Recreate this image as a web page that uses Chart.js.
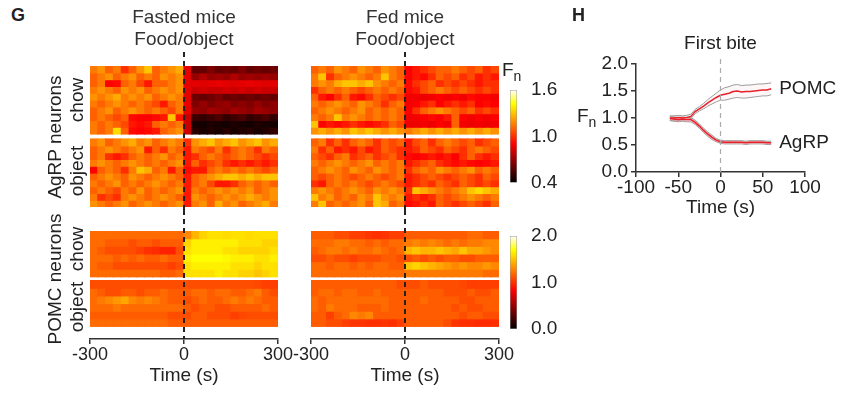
<!DOCTYPE html>
<html><head><meta charset="utf-8">
<script src="https://cdn.jsdelivr.net/npm/chart.js@4.4.1/dist/chart.umd.min.js"></script>
<style>
html,body{margin:0;padding:0;background:#fff;}
#wrap{position:relative;width:859px;height:400px;overflow:hidden;font-family:"Liberation Sans",Arial,sans-serif;color:#222;}
canvas{position:absolute;}
.lbl{position:absolute;white-space:nowrap;font-size:19px;line-height:19px;}
.rot{transform:translate(-50%,-50%) rotate(-90deg);}
.bold{font-weight:bold;font-size:18px;}
.sb{font-size:14px;position:relative;top:5px;}
</style></head><body>
<div id="wrap">
<canvas id="agFast" width="248" height="210" style="left:60px;top:0px"></canvas>
<canvas id="agFed" width="248" height="210" style="left:281px;top:0px"></canvas>
<canvas id="poFast" width="248" height="180" style="left:60px;top:210px"></canvas>
<canvas id="poFed" width="248" height="180" style="left:281px;top:210px"></canvas>
<canvas id="cbAg" width="57" height="140" style="left:500px;top:60px"></canvas>
<canvas id="cbPo" width="57" height="140" style="left:500px;top:210px"></canvas>
<canvas id="panelH" width="299" height="222" style="left:560px;top:0px"></canvas>
<div class="lbl bold" style="left:11px;top:6px">G</div>
<div class="lbl bold" style="left:572px;top:6px">H</div>
<div class="lbl rot" style="left:54px;top:137px">AgRP neurons</div>
<div class="lbl rot" style="left:76px;top:100px">chow</div>
<div class="lbl rot" style="left:76px;top:171px">object</div>
<div class="lbl rot" style="left:54px;top:279px">POMC neurons</div>
<div class="lbl rot" style="left:76px;top:249px">chow</div>
<div class="lbl rot" style="left:76px;top:307px">object</div>
<div class="lbl" style="left:502px;top:60px">F<span class="sb">n</span></div>
<div class="lbl" style="left:577px;top:106px">F<span class="sb">n</span></div>
</div>
<script>
// ---------- DATA ----------
const heatBins = ['-300','-275','-250','-225','-200','-175','-150','-125','-100','-75','-50','-25','0','25','50','75','100','125','150','175','200','225','250','275'];
const heatTicks = [-300, 0, 300];
const agrpScale = [0.4, 1.0, 1.6];
const pomcScale = [0.0, 1.0, 2.0];

const agrpFastedChow = [
 [1.15,1.2,1.1,1.15,1.0,1.1,1.2,1.3,1.1,1.15,1.2,1.25, 0.85,0.6,0.6,0.65,0.6,0.62,0.6,0.65,0.6,0.62,0.6,0.62],
 [1.1,1.15,1.2,1.1,1.15,1.2,1.1,1.15,1.1,1.2,1.15,1.2, 0.85,0.7,0.75,0.7,0.72,0.7,0.75,0.7,0.72,0.7,0.72,0.7],
 [1.1,1.15,0.9,0.92,1.1,1.15,1.05,0.95,1.1,1.1,1.15,1.2, 0.85,0.85,0.84,0.85,0.86,0.85,0.84,0.85,0.86,0.85,0.84,0.85],
 [1.15,1.2,1.15,1.1,1.2,1.15,1.2,1.1,1.15,1.2,1.15,1.2, 0.85,0.8,0.82,0.8,0.8,0.82,0.8,0.82,0.8,0.82,0.8,0.8],
 [1.2,1.15,1.2,1.25,1.15,1.2,1.15,1.2,1.1,1.15,1.2,1.15, 0.85,0.62,0.6,0.62,0.65,0.6,0.62,0.6,0.62,0.6,0.62,0.6],
 [1.15,1.1,1.15,1.2,1.15,1.1,1.15,1.1,1.05,0.95,1.1,1.15, 0.85,0.65,0.7,0.65,0.68,0.7,0.65,0.68,0.65,0.7,0.65,0.68],
 [1.1,1.15,1.2,1.1,1.15,1.2,1.15,1.1,1.15,1.1,1.05,1.15, 0.85,0.7,0.68,0.72,0.7,0.68,0.72,0.7,0.68,0.72,0.7,0.68],
 [1.1,1.15,1.1,1.05,1.1,0.92,0.9,0.9,0.92,0.95,1.3,0.95, 0.8,0.52,0.5,0.52,0.55,0.5,0.52,0.55,0.5,0.52,0.55,0.5],
 [1.15,1.1,1.15,1.1,1.05,0.95,0.92,0.95,1.1,1.15,1.1,1.15, 0.8,0.45,0.44,0.46,0.45,0.44,0.46,0.45,0.44,0.46,0.45,0.44],
 [1.15,1.1,1.15,1.35,1.1,0.92,0.9,0.92,0.95,1.1,1.15,1.2, 0.8,0.48,0.45,0.47,0.45,0.48,0.45,0.47,0.48,0.45,0.47,0.5]
];
const agrpFastedObject = [
 [1.15,1.2,1.1,1.15,1.2,1.25,1.15,1.2,1.1,1.15,1.2,1.15, 1.0,1.2,1.25,1.3,1.2,1.25,1.3,1.2,1.25,1.3,1.2,1.25],
 [1.1,1.15,1.2,1.15,1.1,1.15,1.2,0.95,1.1,1.0,1.15,1.1, 0.95,1.15,1.1,1.05,1.15,1.0,1.1,1.15,1.1,1.0,1.15,1.1],
 [1.1,1.15,1.0,0.95,1.0,1.1,1.15,1.1,1.15,1.2,1.1,1.15, 0.95,1.0,1.1,1.15,1.1,1.05,1.1,1.15,1.1,1.05,1.0,1.05],
 [1.15,1.2,1.15,1.1,1.15,1.2,1.15,1.1,1.15,1.1,1.15,1.2, 0.95,1.1,1.0,1.05,1.1,1.0,0.95,1.0,0.95,1.0,0.95,1.0],
 [0.9,1.1,1.15,1.1,1.0,1.15,1.3,1.25,1.1,1.15,0.95,1.1, 0.92,0.95,0.95,1.1,1.15,1.1,1.15,1.1,1.15,1.1,1.05,1.1],
 [1.1,1.15,1.2,1.15,1.1,1.2,1.15,1.1,1.15,1.2,1.15,1.1, 0.95,1.1,1.15,1.2,1.25,1.3,1.3,1.25,1.3,1.25,1.3,1.3],
 [1.15,1.1,1.15,1.2,1.1,1.15,1.1,1.15,1.2,1.15,1.1,1.15, 0.95,1.1,1.15,1.05,0.95,0.95,1.0,1.1,1.15,1.1,1.15,1.1],
 [1.1,1.15,1.1,1.05,1.15,1.1,1.2,1.1,1.15,1.1,1.15,1.2, 0.95,1.15,1.1,1.15,1.2,1.15,1.2,1.15,1.2,1.1,1.15,1.2],
 [1.15,1.0,1.05,1.0,1.15,1.2,1.15,1.1,1.15,1.2,1.15,1.1, 0.95,1.2,1.15,1.1,1.15,1.2,1.15,1.2,1.25,1.2,1.15,1.2],
 [1.2,1.15,1.1,1.15,1.2,1.1,1.15,1.2,1.15,1.1,1.15,1.2, 0.95,1.15,1.2,1.1,1.25,1.15,1.2,1.1,1.15,1.2,1.25,1.15]
];
const agrpFedChow = [
 [1.1,1.15,1.1,1.2,1.15,1.1,1.2,1.15,1.1,1.2,1.15,1.1, 0.9,0.95,1.0,1.05,1.1,1.1,1.15,1.1,1.05,1.1,1.0,1.05],
 [1.15,1.3,1.0,1.1,1.15,1.2,1.15,1.1,1.15,1.3,1.15,1.1, 0.9,0.95,0.92,1.0,1.1,1.05,1.1,1.0,1.05,0.95,1.0,0.95],
 [1.15,1.2,1.15,1.25,1.3,1.3,1.25,1.3,1.2,1.15,1.1,1.15, 0.92,1.0,1.05,1.1,1.0,1.05,1.0,1.05,1.0,0.95,1.0,1.0],
 [1.0,1.1,1.15,1.1,1.15,1.1,1.05,1.1,1.15,1.1,1.15,1.1, 0.92,0.95,1.05,1.1,1.15,1.1,1.05,1.1,1.05,1.0,1.05,1.0],
 [1.1,0.95,0.9,1.0,1.1,0.95,0.92,1.0,1.1,1.05,1.0,1.05, 0.88,0.88,0.87,0.88,0.9,0.88,0.9,0.88,0.92,0.9,0.9,0.88],
 [1.15,1.1,1.15,1.2,1.15,1.1,1.2,1.15,1.1,1.0,1.1,1.15, 0.88,0.9,0.95,1.0,0.9,0.95,1.0,0.95,1.0,0.9,0.92,0.9],
 [1.1,1.15,1.2,1.15,1.1,1.15,1.2,1.1,1.15,1.1,1.15,1.1, 0.9,1.0,1.1,1.15,1.2,1.15,1.1,1.05,1.1,1.0,1.05,1.0],
 [1.15,1.1,1.15,1.3,1.15,1.2,1.15,1.1,1.15,1.1,1.15,1.1, 0.88,0.88,0.9,0.92,0.9,0.95,1.1,0.9,0.88,0.9,0.88,0.9],
 [1.3,0.9,0.95,0.92,0.95,1.0,0.95,0.92,0.95,1.0,1.1,1.05, 0.87,0.87,0.88,0.87,0.9,0.88,1.1,0.88,0.87,0.88,0.87,0.88],
 [1.2,1.25,1.2,1.25,1.2,1.3,1.25,1.3,1.25,1.2,1.25,1.2, 1.15,1.2,1.25,1.2,1.25,1.2,1.25,1.2,1.25,1.2,1.25,1.2]
];
const agrpFedObject = [
 [1.1,1.15,1.0,1.1,1.0,1.1,1.15,1.1,1.0,1.1,1.05,1.1, 0.95,1.05,1.1,1.0,1.1,1.15,1.1,1.05,1.1,1.0,1.05,1.1],
 [1.15,1.0,1.1,0.95,1.0,0.95,1.05,0.95,1.0,1.1,1.05,1.0, 0.95,1.0,1.1,1.05,1.0,1.1,1.05,1.0,1.1,1.15,1.1,1.05],
 [1.1,1.05,1.0,1.1,1.15,1.0,1.05,1.1,1.0,1.05,1.1,1.0, 0.92,0.9,0.92,0.95,0.92,0.95,0.9,1.0,1.1,1.0,0.95,1.0],
 [1.15,1.1,1.15,1.2,1.15,1.1,1.15,1.2,1.1,1.15,1.1,1.15, 0.95,1.0,1.05,1.1,1.0,0.95,0.92,0.95,0.92,0.9,0.92,0.95],
 [1.1,1.15,1.2,1.15,1.1,1.2,1.15,1.1,1.2,1.15,1.1,1.15, 1.0,1.1,1.15,1.1,1.2,1.15,1.1,1.15,1.2,1.1,1.15,1.1],
 [1.1,1.05,1.1,1.15,1.1,1.05,1.1,1.15,1.1,1.05,1.1,1.15, 0.95,1.0,1.05,1.1,1.05,1.0,1.05,1.1,1.05,1.0,1.1,1.05],
 [1.0,0.95,1.1,1.15,1.1,1.15,1.1,1.05,1.1,1.15,1.1,1.05, 0.95,1.0,1.05,1.0,1.1,1.05,1.0,1.1,1.05,1.0,1.05,1.0],
 [1.15,1.2,1.15,1.1,1.15,1.2,1.15,1.1,1.2,1.15,1.2,1.15, 1.0,1.3,1.25,1.2,1.15,1.1,1.15,1.2,1.3,1.35,1.3,1.25],
 [1.3,1.15,1.2,1.1,1.15,1.1,1.2,1.15,1.3,1.2,1.15,1.2, 0.95,1.0,0.95,1.0,1.1,1.05,1.1,1.15,1.2,1.15,1.1,1.15],
 [1.15,1.3,1.1,1.15,1.1,1.15,1.2,1.1,1.3,1.25,1.1,1.15, 0.92,0.95,1.0,0.95,1.1,1.05,1.0,1.05,1.1,1.05,1.0,1.1]
];
const pomcFastedChow = [
 [1.2,1.2,1.2,1.2,1.2,1.2,1.2,1.2,1.2,1.2,1.2,1.2, 1.3,1.45,1.55,1.6,1.6,1.58,1.6,1.6,1.58,1.6,1.6,1.6],
 [1.2,1.2,1.15,1.15,1.15,1.1,1.15,1.15,1.1,1.15,1.15,1.15, 1.55,1.65,1.65,1.65,1.65,1.65,1.65,1.6,1.6,1.6,1.55,1.55],
 [1.2,1.15,1.1,1.1,1.1,1.1,1.05,1.0,0.98,0.95,0.95,1.1, 1.6,1.65,1.65,1.65,1.65,1.6,1.6,1.55,1.55,1.55,1.55,1.6],
 [1.2,1.2,1.2,1.15,1.2,1.15,1.2,1.15,1.15,1.2,1.15,1.15, 1.65,1.7,1.7,1.7,1.7,1.68,1.65,1.65,1.65,1.6,1.6,1.65],
 [1.2,1.15,1.15,1.1,1.1,1.1,1.1,1.1,1.1,1.1,1.05,1.1, 1.6,1.65,1.65,1.65,1.65,1.65,1.6,1.6,1.6,1.55,1.6,1.6],
 [1.2,1.2,1.2,1.2,1.2,1.2,1.2,1.2,1.2,1.15,1.15,1.2, 1.6,1.6,1.6,1.6,1.65,1.6,1.6,1.55,1.55,1.5,1.55,1.6]
];
const pomcFastedObject = [
 [1.1,1.1,1.1,1.1,1.1,1.1,1.1,1.1,1.1,1.1,1.1,1.1, 1.1,1.1,1.1,1.1,1.1,1.1,1.1,1.1,1.1,1.08,1.05,1.05],
 [1.2,1.15,1.1,1.1,1.15,1.15,1.1,1.15,1.15,1.2,1.15,1.15, 1.15,1.2,1.2,1.15,1.2,1.2,1.15,1.15,1.2,1.25,1.15,1.1],
 [1.2,1.25,1.3,1.35,1.4,1.3,1.25,1.3,1.25,1.2,1.15,1.15, 1.1,1.15,1.2,1.15,1.15,1.2,1.25,1.2,1.25,1.2,1.15,1.15],
 [1.2,1.2,1.2,1.25,1.2,1.2,1.2,1.2,1.2,1.2,1.2,1.2, 1.15,1.1,1.15,1.15,1.1,1.1,1.15,1.15,1.15,1.15,1.2,1.15],
 [1.15,1.15,1.15,1.15,1.15,1.15,1.15,1.15,1.15,1.15,1.1,1.1, 1.1,1.15,1.15,1.1,1.1,1.1,1.05,1.08,1.1,1.1,1.1,1.1],
 [1.2,1.2,1.2,1.2,1.2,1.2,1.2,1.2,1.2,1.2,1.15,1.15, 1.15,1.15,1.15,1.15,1.15,1.15,1.15,1.15,1.15,1.15,1.15,1.15]
];
const pomcFedChow = [
 [1.15,1.15,1.15,1.1,1.1,1.05,1.05,1.02,1.0,1.02,1.05,1.05, 1.15,1.15,1.15,1.15,1.15,1.15,1.15,1.15,1.2,1.2,1.15,1.15],
 [1.2,1.2,1.2,1.25,1.25,1.2,1.2,1.15,1.2,1.15,1.2,1.2, 1.25,1.3,1.25,1.3,1.25,1.2,1.25,1.2,1.25,1.25,1.3,1.3],
 [1.15,1.2,1.25,1.25,1.2,1.25,1.2,1.2,1.25,1.2,1.15,1.2, 1.45,1.5,1.45,1.45,1.5,1.45,1.4,1.5,1.4,1.4,1.35,1.3],
 [1.1,1.1,1.15,1.1,1.1,1.05,1.1,1.1,1.1,1.15,1.15,1.1, 1.1,1.15,1.1,1.15,1.1,1.15,1.15,1.1,1.1,1.15,1.15,1.15],
 [1.2,1.2,1.15,1.2,1.2,1.15,1.2,1.15,1.2,1.2,1.15,1.15, 1.5,1.55,1.5,1.45,1.4,1.35,1.3,1.35,1.3,1.3,1.35,1.3],
 [1.2,1.2,1.2,1.2,1.2,1.2,1.2,1.2,1.2,1.2,1.2,1.2, 1.25,1.25,1.25,1.25,1.25,1.25,1.25,1.25,1.25,1.25,1.2,1.2]
];
const pomcFedObject = [
 [1.15,1.15,1.15,1.15,1.15,1.15,1.15,1.15,1.15,1.15,1.15,1.1, 1.1,1.1,1.15,1.1,1.1,1.1,1.1,1.08,1.05,1.05,1.05,1.05],
 [1.15,1.2,1.2,1.15,1.2,1.2,1.15,1.15,1.2,1.15,1.15,1.15, 1.15,1.15,1.15,1.15,1.15,1.1,1.1,1.1,1.15,1.1,1.1,1.15],
 [1.2,1.15,1.2,1.2,1.2,1.2,1.2,1.2,1.2,1.2,1.15,1.15, 1.15,1.15,1.2,1.15,1.15,1.15,1.15,1.1,1.1,1.15,1.15,1.15],
 [1.2,1.15,1.25,1.2,1.2,1.2,1.15,1.15,1.15,1.2,1.15,1.15, 1.15,1.15,1.15,1.15,1.15,1.15,1.1,1.15,1.1,1.1,1.15,1.15],
 [1.15,1.15,1.05,1.15,1.2,1.3,1.25,1.3,1.15,1.15,1.15,1.15, 1.15,1.15,1.15,1.15,1.15,1.15,1.15,1.1,1.15,1.15,1.1,1.1],
 [1.15,1.15,1.1,1.1,1.05,1.02,1.02,1.0,1.0,1.02,1.0,1.05, 1.15,1.15,1.15,1.15,1.15,1.1,1.02,1.0,1.0,0.98,0.98,1.0]
];

// Panel H
const hTime = [-60,-55,-50,-45,-40,-35,-30,-25,-20,-15,-10,-5,0,5,10,15,20,25,30,35,40,45,50,55,60];
const pomcMean  = [1.00,1.00,1.01,1.00,1.01,1.03,1.12,1.17,1.22,1.28,1.33,1.38,1.42,1.44,1.46,1.49,1.50,1.48,1.49,1.49,1.50,1.51,1.52,1.52,1.54];
const pomcUpper = [1.04,1.04,1.05,1.04,1.05,1.07,1.16,1.21,1.27,1.34,1.40,1.46,1.52,1.56,1.58,1.61,1.62,1.60,1.61,1.61,1.62,1.63,1.63,1.64,1.65];
const pomcLower = [0.96,0.96,0.97,0.96,0.97,0.99,1.08,1.13,1.17,1.22,1.26,1.30,1.33,1.33,1.35,1.37,1.38,1.37,1.37,1.38,1.39,1.40,1.41,1.41,1.43];
const agrpMean  = [0.99,0.98,0.97,0.98,0.97,0.97,0.92,0.85,0.77,0.70,0.64,0.59,0.56,0.55,0.55,0.55,0.55,0.55,0.54,0.55,0.55,0.55,0.55,0.54,0.54];
const agrpUpper = [1.03,1.02,1.01,1.02,1.01,1.01,0.96,0.89,0.81,0.74,0.68,0.62,0.59,0.58,0.58,0.58,0.58,0.58,0.57,0.58,0.58,0.58,0.58,0.57,0.57];
const agrpLower = [0.95,0.94,0.93,0.94,0.93,0.93,0.88,0.81,0.73,0.66,0.60,0.56,0.53,0.52,0.52,0.52,0.52,0.52,0.51,0.52,0.52,0.52,0.52,0.51,0.51];
const hXTicks = [-100,-50,0,50,100];
const hYTicks = [0,0.5,1.0,1.5,2.0];

// ---------- RENDER ----------
const FONT = '"Liberation Sans", Arial, sans-serif';
Chart.defaults.font.family = FONT;
Chart.defaults.color = '#222';

// black -> red -> yellow -> white colormap
function hot(t){
  t = Math.max(0, Math.min(1, t));
  const R = 0.42, Y = 0.85;
  const r = Math.min(1, t/R);
  const g = Math.max(0, Math.min(1, (t-R)/(Y-R)));
  const b = Math.max(0, Math.min(1, (t-Y)/(1-Y)));
  return 'rgb('+Math.round(255*r)+','+Math.round(255*g)+','+Math.round(255*b)+')';
}

const zeroLine = {
  id: 'zeroLine',
  afterDatasetsDraw(chart, args, o){
    if (!o || !o.on) return;
    const xs = chart.scales[o.axis];
    const x = xs.getPixelForValue(0);
    const ctx = chart.ctx;
    ctx.save();
    ctx.strokeStyle = o.color; ctx.lineWidth = o.width; ctx.setLineDash(o.dash);
    ctx.beginPath();
    const top = o.top === 'area' ? chart.chartArea.top + (o.topOff||0) : o.top;
    const bot = o.bottom === 'area' ? chart.chartArea.bottom : chart.height;
    ctx.moveTo(x, top); ctx.lineTo(x, bot); ctx.stroke();
    ctx.restore();
  }
};
Chart.register(zeroLine);

function heatChart(id, upperRows, lowerRows, range, geom, withAxis, title){
  const vmin = range[0], vmax = range[range.length - 1];
  const datasets = [];
  const addBlock = (rows, base) => {
    const n = rows.length;
    rows.forEach((row, i) => {
      const y1 = base + n - i, y0 = y1 - 1;
      datasets.push({
        data: row.map(() => [y0, y1]),
        backgroundColor: row.map(v => hot((v - vmin)/(vmax - vmin))),
        borderWidth: 0, barPercentage: 1, categoryPercentage: 1,
        grouped: false, inflateAmount: 0.6, xAxisID: 'x', yAxisID: 'y'
      });
    });
  };
  addBlock(lowerRows, 0);
  addBlock(upperRows, lowerRows.length + geom.gap);
  const topVal = lowerRows.length + geom.gap + upperRows.length;
  new Chart(document.getElementById(id), {
    type: 'bar',
    data: { labels: heatBins, datasets },
    options: {
      responsive: false, animation: false, events: [], devicePixelRatio: 1,
      layout: { padding: geom.pad },
      plugins: {
        legend: { display: false }, tooltip: { enabled: false },
        title: title ? { display: true, text: title, color: '#333',
          font: { size: 19, lineHeight: '22px', weight: 'normal' }, padding: { top: 7, bottom: 15 } } : { display: false },
        zeroLine: { on: true, axis: 'xt', color: '#222', width: 2, dash: [5, 4], top: geom.lineTop, bottom: geom.lineBottom }
      },
      scales: {
        x: { type: 'category', display: false, offset: true },
        xt: { type: 'linear', position: 'bottom', min: -300, max: 300, display: withAxis,
          offset: false,
          afterBuildTicks: s => { s.ticks = heatTicks.map(v => ({ value: v })); },
          ticks: { stepSize: 300, autoSkip: false, font: { size: 18, lineHeight: 1 }, color: '#222', padding: 2, maxRotation: 0, callback: v => String(v) },
          grid: { offset: false, drawOnChartArea: false, drawTicks: true, tickLength: 5, color: '#333', lineWidth: 1.5 },
          border: { display: true, color: '#333', width: 1.5 },
          title: { display: true, text: 'Time (s)', font: { size: 19, lineHeight: 1 }, color: '#222', padding: { top: 0, bottom: 0 } }
        },
        y: { type: 'linear', display: false, min: geom.ymin, max: topVal }
      }
    }
  });
}

const agGeom = { gap: 0.74, ymin: 0, pad: { left: 30, right: 30, top: 0, bottom: 3 }, lineTop: 52, lineBottom: 'canvas' };
const poGeom = { gap: 0.5, ymin: -1.66, pad: { left: 30, right: 30, top: 21, bottom: 5 }, lineTop: 0, lineBottom: 'area' };

heatChart('agFast', agrpFastedChow, agrpFastedObject, agrpScale, agGeom, false, ['Fasted mice', 'Food/object']);
heatChart('agFed', agrpFedChow, agrpFedObject, agrpScale, agGeom, false, ['Fed mice', 'Food/object']);
heatChart('poFast', pomcFastedChow, pomcFastedObject, pomcScale, poGeom, true, null);
heatChart('poFed', pomcFedChow, pomcFedObject, pomcScale, poGeom, true, null);

function colorbar(id, ticks, padTop, padBottom){
  const vmin = ticks[0], vmax = ticks[ticks.length - 1];
  new Chart(document.getElementById(id), {
    type: 'bar',
    data: { labels: [''], datasets: [{
      data: [[vmin, vmax]],
      backgroundColor: (c) => {
        const ch = c.chart; if (!ch.chartArea) return '#f00';
        const ys = ch.scales.y;
        const g = ch.ctx.createLinearGradient(0, ys.getPixelForValue(vmin), 0, ys.getPixelForValue(vmax));
        for (let i = 0; i <= 40; i++) g.addColorStop(i/40, hot(i/40));
        return g;
      },
      borderColor: '#999', borderWidth: 0.8, borderSkipped: false,
      barPercentage: 1, categoryPercentage: 1
    }]},
    options: {
      responsive: false, animation: false, events: [], devicePixelRatio: 1,
      layout: { padding: { left: 10, right: 0, top: padTop, bottom: padBottom } },
      plugins: { legend: { display: false }, tooltip: { enabled: false } },
      scales: {
        x: { display: false, offset: true },
        y: { position: 'right', min: vmin, max: vmax,
          afterBuildTicks: s => { s.ticks = ticks.map(v => ({ value: v })); },
          afterFit: s => { s.width = 40; },
          ticks: { font: { size: 19 }, color: '#222', padding: 6, callback: v => Number(v).toFixed(1) },
          grid: { display: false }, border: { display: false } }
      }
    }
  });
}
colorbar('cbAg', agrpScale, 30, 15);
colorbar('cbPo', pomcScale, 26, 21);

// Panel H
const pts = arr => hTime.map((t, i) => ({ x: t, y: arr[i] }));
const sideLabels = {
  id: 'sideLabels',
  afterDatasetsDraw(chart){
    const ctx = chart.ctx, xs = chart.scales.x, ys = chart.scales.y;
    const x = xs.getPixelForValue(hTime[hTime.length - 1]) + 8;
    ctx.save();
    ctx.font = '19px ' + FONT; ctx.fillStyle = '#222'; ctx.textBaseline = 'middle'; ctx.textAlign = 'left';
    ctx.fillText('POMC', x, ys.getPixelForValue(pomcMean[pomcMean.length - 1]));
    ctx.fillText('AgRP', x, ys.getPixelForValue(agrpMean[agrpMean.length - 1]));
    ctx.restore();
  }
};
const band = (arr, fill, bg) => ({ data: pts(arr), borderColor: '#9a9a9a', borderWidth: 1, pointRadius: 0, fill: fill, backgroundColor: bg, order: 3, tension: 0 });
new Chart(document.getElementById('panelH'), {
  type: 'line',
  data: { datasets: [
    band(pomcUpper, '+1', 'rgba(245,200,205,0.15)'),
    band(pomcLower, false, 'transparent'),
    band(agrpUpper, '+1', 'rgba(235,130,140,0.45)'),
    band(agrpLower, false, 'transparent'),
    { data: pts(pomcMean), borderColor: '#e8202a', borderWidth: 1.5, pointRadius: 0, fill: false, order: 1, tension: 0 },
    { data: pts(agrpMean), borderColor: '#e8202a', borderWidth: 1.5, pointRadius: 0, fill: false, order: 1, tension: 0 }
  ]},
  plugins: [sideLabels],
  options: {
    responsive: false, animation: false, events: [], devicePixelRatio: 1,
    layout: { padding: { left: 36, right: 54, top: 0, bottom: 5 } },
    plugins: {
      legend: { display: false }, tooltip: { enabled: false },
      title: { display: true, text: 'First bite', fullSize: false, color: '#222',
        font: { size: 19, lineHeight: '22px', weight: 'normal' }, padding: { top: 33, bottom: 9 } },
      zeroLine: { on: true, axis: 'x', color: '#aaa', width: 1.2, dash: [5, 4], top: 'area', topOff: -5, bottom: 'area' }
    },
    scales: {
      x: { type: 'linear', min: -100, max: 100,
        afterBuildTicks: s => { s.ticks = hXTicks.map(v => ({ value: v })); },
        ticks: { autoSkip: false, font: { size: 19, lineHeight: 1 }, color: '#222', padding: 1, maxRotation: 0, callback: v => String(v) },
        grid: { drawOnChartArea: false, drawTicks: true, tickLength: 5, color: '#333', lineWidth: 1.5 },
        border: { display: true, color: '#333', width: 1.5 },
        title: { display: true, text: 'Time (s)', font: { size: 19, lineHeight: 1 }, color: '#222', padding: { top: 0, bottom: 0 } }
      },
      y: { type: 'linear', min: 0, max: 2,
        afterBuildTicks: s => { s.ticks = hYTicks.map(v => ({ value: v })); },
        afterFit: s => { s.width = 40; },
        ticks: { font: { size: 19 }, color: '#222', padding: 3, callback: v => Number(v).toFixed(1) },
        grid: { drawOnChartArea: false, drawTicks: true, tickLength: 5, color: '#333', lineWidth: 1.5 },
        border: { display: true, color: '#333', width: 1.5 }
      }
    }
  }
});
</script>
</body></html>
